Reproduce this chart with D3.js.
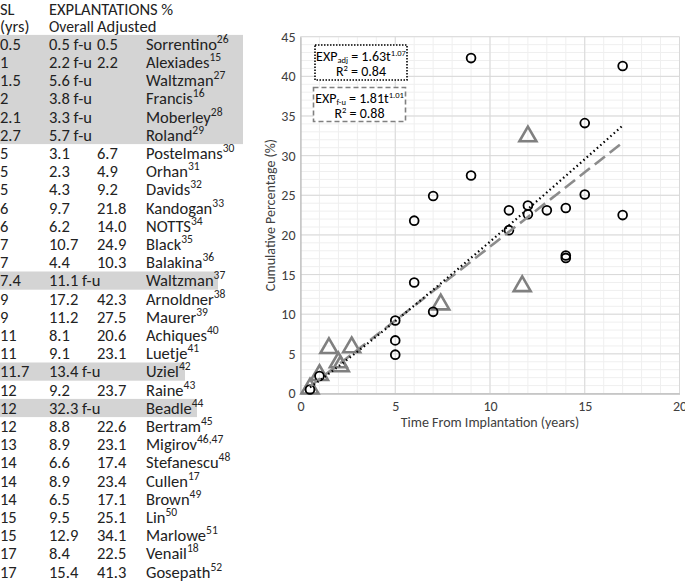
<!DOCTYPE html>
<html><head><meta charset="utf-8">
<script src="https://cdn.jsdelivr.net/npm/d3@7"></script>
<style>
html,body{margin:0;padding:0;background:#fff;}
svg{display:block;}
</style></head>
<body><svg id="c" width="685" height="581"></svg>
<script>
// ---- Data ----
const sl       = [0.5,1,1.5,2,2.1,2.7,5,5,5,6,6,7,7,7.4,9,9,11,11,11.7,12,12,12,13,14,14,14,15,15,17,17];
const overall  = [0.5,2.2,5.6,3.8,3.3,5.7,3.1,2.3,4.3,9.7,6.2,10.7,4.4,11.1,17.2,11.2,8.1,9.1,13.4,9.2,32.3,8.8,8.9,6.6,8.9,6.5,9.5,12.9,8.4,15.4];
const adjusted = [0.5,2.2,null,null,null,null,6.7,4.9,9.2,21.8,14.0,24.9,10.3,null,42.3,27.5,20.6,23.1,null,23.7,null,22.6,23.1,17.4,23.4,17.1,25.1,34.1,22.5,41.3];
const followUp = [1,1,1,1,1,1,0,0,0,0,0,0,0,1,0,0,0,0,1,0,1,0,0,0,0,0,0,0,0,0];
const authors  = ["Sorrentino","Alexiades","Waltzman","Francis","Moberley","Roland","Postelmans","Orhan","Davids","Kandogan","NOTTS","Black","Balakina","Waltzman","Arnoldner","Maurer","Achiques","Luetje","Uziel","Raine","Beadle","Bertram","Migirov","Stefanescu","Cullen","Brown","Lin","Marlowe","Venail","Gosepath"];
const refs     = ["26","15","27","16","28","29","30","31","32","33","34","35","36","37","38","39","40","41","42","43","44","45","46,47","48","17","49","50","51","18","52"];
const xTicks = [0,5,10,15,20];
const yTicks = [0,5,10,15,20,25,30,35,40,45];
const trendAdj = {a:1.63, b:1.07, r2:"0.84", from:0.5, to:17};
const trendFu  = {a:1.81, b:1.01, r2:"0.88", from:0.5, to:17};

const fmt1 = v => v==null ? "" : v.toFixed(1);

// font detection: Carlito (Calibri metrics) if present, else Lato condensed a little
const cv = document.createElement("canvas").getContext("2d");
function w(f){ cv.font = "40px " + f; return cv.measureText("Moberley Sorrentino 0123").width; }
const hasCarlito = w("Carlito, monospace") !== w("monospace");
const FONT = hasCarlito ? "Carlito, Lato, sans-serif" : "Lato, sans-serif";
const SX = hasCarlito ? 1 : 0.94;

const svg = d3.select("#c").attr("font-family", FONT);

// ---- Table ----
const tbl = svg.append("g");
const rowY = i => 44 + i*18.2;
const colX = [0,49,97,146];
const fs = hasCarlito ? 16.5 : 15;
function tText(g, xx, yy, sx=SX){
  return g.append("text").attr("transform",`translate(${xx},${yy}) scale(${sx},1)`)
    .attr("dy","0.35em");
}
const head = tbl.append("g").attr("font-size",fs).attr("fill","#222");
tText(head,colX[0],9).text("SL");
tText(head,colX[1],9).text("EXPLANTATIONS %");
tText(head,colX[0],26).text("(yrs)");
tText(head,colX[1],26,SX*0.95).text("Overall");
tText(head,colX[2],26).text("Adjusted");

const bgG = tbl.append("g");
const txtG = tbl.append("g").attr("font-size",fs).attr("fill","#222");
sl.forEach((s,i)=>{
  const y = rowY(i);
  tText(txtG,colX[0],y).text(String(s));
  tText(txtG,colX[1],y).text(fmt1(overall[i]) + (followUp[i]?" f-u":""));
  tText(txtG,colX[2],y).text(fmt1(adjusted[i]));
  const t = tText(txtG,colX[3],y);
  t.append("tspan").text(authors[i]);
  t.append("tspan").attr("font-size",fs*0.7).attr("dy",-7).text(refs[i]);
});
// highlight bands for the follow-up-only rows (right edges as in the source figure)
const bandRight = [243, 218, 185, 197];
let i0 = 0, b = 0;
while (i0 < sl.length){
  if (!followUp[i0]) { i0++; continue; }
  let i1 = i0;
  while (i1+1 < sl.length && followUp[i1+1]) i1++;
  bgG.append("rect").attr("x",0).attr("y",rowY(i0)-9.1).attr("width",bandRight[b++])
     .attr("height",rowY(i1)-rowY(i0)+18.2).attr("fill","#d4d4d4");
  if (i1 === 4) {} // placeholder
  i0 = i1+1;
}

// ---- Chart ----
const x = d3.scaleLinear().domain([0,20]).range([300.5,679.5]);
const y = d3.scaleLinear().domain([0,45]).range([393.5,36.7]);
const ch = svg.append("g");
ch.append("g").selectAll("line").data(d3.range(0,21)).join("line")
  .attr("x1",d=>x(d)).attr("x2",d=>x(d)).attr("y1",y(0)).attr("y2",y(45))
  .attr("stroke","#efefef").attr("stroke-width",1);
ch.append("g").selectAll("line").data(d3.range(0,46)).join("line")
  .attr("y1",d=>y(d)).attr("y2",d=>y(d)).attr("x1",x(0)).attr("x2",x(20))
  .attr("stroke","#efefef").attr("stroke-width",1);
ch.append("g").selectAll("line").data(xTicks).join("line")
  .attr("x1",d=>x(d)).attr("x2",d=>x(d)).attr("y1",y(0)).attr("y2",y(45))
  .attr("stroke","#d9d9d9");
ch.append("g").selectAll("line").data(yTicks).join("line")
  .attr("y1",d=>y(d)).attr("y2",d=>y(d)).attr("x1",x(0)).attr("x2",x(20))
  .attr("stroke","#d9d9d9");

const ax = ch.append("g").attr("transform",`translate(0,${y(0)})`)
  .call(d3.axisBottom(x).tickValues(xTicks).tickSize(0).tickPadding(8));
const ay = ch.append("g").attr("transform",`translate(${x(0)},0)`)
  .call(d3.axisLeft(y).tickValues(yTicks).tickSize(0).tickPadding(5));
[ax,ay].forEach(a=>{
  a.select(".domain").attr("stroke","#bfbfbf").attr("stroke-width",1.3);
  a.selectAll("text").attr("font-family",FONT).attr("font-size",hasCarlito?14:13).attr("fill","#404040");
});

const tfs = hasCarlito ? 14 : 13;
ch.append("text").attr("x",x(10)).attr("y",427).attr("text-anchor","middle")
  .attr("font-size",tfs).attr("fill","#404040").text("Time From Implantation (years)");
ch.append("text").attr("transform",`translate(270,${(y(0)+y(45))/2}) rotate(-90)`)
  .attr("text-anchor","middle").attr("dy","0.35em")
  .attr("font-size",tfs).attr("fill","#404040").text("Cumulative Percentage (%)");

// markers
const adjPts = sl.map((s,i)=>({s, v:adjusted[i]})).filter(d=>d.v!=null);
const fuPts  = sl.map((s,i)=>({s, v:overall[i]})).filter((d,i)=>followUp[i]);
const tri = d3.symbol().type(d3.symbolTriangle).size(125);
ch.append("g").selectAll("path").data(fuPts).join("path")
  .attr("d",tri).attr("transform",d=>`translate(${x(d.s)},${y(d.v)-1})`)
  .attr("fill","none").attr("stroke","#808080").attr("stroke-width",2.6);
ch.append("g").selectAll("circle").data(adjPts).join("circle")
  .attr("cx",d=>x(d.s)).attr("cy",d=>y(d.v)).attr("r",4.4)
  .attr("fill","none").attr("stroke","#000").attr("stroke-width",1.8);

// trendlines
const line = d3.line().x(d=>x(d[0])).y(d=>y(d[1]));
const curve = t => d3.range(t.from, t.to+0.001, 0.25).map(s=>[s, t.a*Math.pow(s,t.b)]);
ch.append("path").attr("d",line(curve(trendFu))).attr("fill","none")
  .attr("stroke","#8c8c8c").attr("stroke-width",2.6).attr("stroke-dasharray","13,6");
ch.append("path").attr("d",line(curve(trendAdj))).attr("fill","none")
  .attr("stroke","#000").attr("stroke-width",2.2).attr("stroke-dasharray","1.5,3").attr("stroke-linecap","butt");

// legend boxes
function box(x0,y0,bw,h,stroke,dash,label,sub,a,bb,r2){
  const g = ch.append("g");
  g.append("rect").attr("x",x0).attr("y",y0).attr("width",bw).attr("height",h)
    .attr("fill","#fff").attr("stroke",stroke).attr("stroke-width",1.6).attr("stroke-dasharray",dash);
  const cx = x0+bw/2;
  const lf = hasCarlito ? 14 : 13;
  const t1 = g.append("text").attr("x",cx).attr("y",y0+h*0.31).attr("dy","0.35em")
    .attr("text-anchor","middle").attr("font-size",lf).attr("fill","#000");
  t1.append("tspan").text(label);
  t1.append("tspan").attr("font-size",8.5).attr("baseline-shift","-20%").text(sub);
  t1.append("tspan").text(` = ${a}t`);
  t1.append("tspan").attr("font-size",8.5).attr("baseline-shift","55%").text(bb);
  const t2 = g.append("text").attr("x",cx).attr("y",y0+h*0.74).attr("dy","0.35em")
    .attr("text-anchor","middle").attr("font-size",lf).attr("fill","#000");
  t2.append("tspan").text("R");
  t2.append("tspan").attr("font-size",8.5).attr("baseline-shift","55%").text("2");
  t2.append("tspan").text(" = " + r2);
}
box(315,45,92,35,"#000","1.5,1.5","EXP","adj",trendAdj.a.toFixed(2),trendAdj.b.toFixed(2),trendAdj.r2);
box(313.5,87.5,92,34,"#808080","5,3","EXP","f-u",trendFu.a.toFixed(2),trendFu.b.toFixed(2),trendFu.r2);
</script></body></html>
